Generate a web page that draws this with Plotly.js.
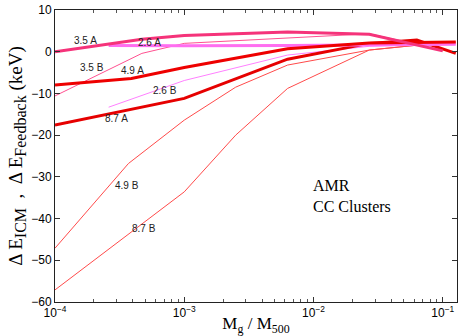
<!DOCTYPE html>
<html>
<head>
<meta charset="utf-8">
<script src="https://cdn.plot.ly/plotly-3.0.1.min.js"></script>
<style>
  html, body { margin: 0; padding: 0; background: #fff; }
  #plot { width: 463px; height: 336px; }
</style>
</head>
<body>
<div id="plot"></div>
<script>
// Mg/M500 positions and energy change (keV) for each run
const x35A = [1e-4, 4.7e-4, 1e-3, 6.3e-3, 0.027, 0.1];
const y35A = [0.0, 3.0, 3.9, 4.7, 4.2, 0.2];

const x35B = [1e-4, 4.7e-4, 1e-3, 6.3e-3, 0.027, 0.1];
const y35B = [-10.6, -0.4, 2.0, 3.3, 4.3, 0.4];

const x26A = [2.6e-4, 1e-3, 6.3e-3, 0.027, 0.1, 0.126];
const y26A = [1.5, 1.4, 1.5, 1.7, 1.8, 1.8];

const x26B = [2.6e-4, 1e-3, 6.3e-3, 0.027, 0.1, 0.126];
const y26B = [-13.3, -6.9, -0.8, 1.3, 1.8, 1.8];

const x49A = [1e-4, 3.9e-4, 1e-3, 6.3e-3, 0.027, 0.1, 0.126];
const y49A = [-8.0, -6.4, -3.8, 0.7, 2.1, 2.3, 2.3];

const x87A = [1e-4, 1e-3, 6.3e-3, 0.027, 0.063, 0.126];
const y87A = [-17.6, -11.2, -1.8, 2.0, 2.8, -0.4];

const x49B = [1e-4, 3.7e-4, 1e-3, 2.5e-3, 6.3e-3, 0.027, 0.1, 0.126];
const y49B = [-47.1, -26.8, -16.4, -8.5, -3.2, 0.4, 2.2, 2.3];

const x87B = [1e-4, 1e-3, 2.5e-3, 6.3e-3, 0.027, 0.1];
const y87B = [-57.1, -33.6, -20.0, -8.8, 0.4, 2.2];

// curve labels and where they sit
const labelText = ['3.5 A', '2.6 A', '3.5 B', '4.9 A', '2.6 B', '8.7 A', '4.9 B', '8.7 B'];
const labelX = [1.73e-4, 5.4e-4, 1.93e-4, 4.0e-4, 7.1e-4, 3.0e-4, 3.6e-4, 4.86e-4];
const labelY = [2.6, 2.1, -3.7, -4.4, -9.4, -16.1, -32.1, -42.3];

// minor ticks on the log axis
const minorTicks = [];
for (let d = -4; d <= -1; d++) {
    for (let m = 2; m <= 9; m++) minorTicks.push(m * Math.pow(10, d));
}

function line(x, y, color, width) {
    return { x, y, type: 'scatter', mode: 'lines', line: { color, width }, hoverinfo: 'skip' };
}

const traces = [
    line(x87B, y87B, '#ff4a4a', 1),
    line(x49B, y49B, '#ff4a4a', 1),
    line(x26B, y26B, '#ff80ff', 1),
    line(x35B, y35B, '#ff5090', 1),
    line(x87A, y87A, '#e60000', 3),
    line(x26A, y26A, '#ff6ef0', 3),
    line(x49A, y49A, '#ee0000', 3),
    line(x35A, y35A, '#f5337a', 3)
];

const annotations = labelText.map((t, i) => ({
    x: Math.log10(labelX[i]), y: labelY[i], text: t, showarrow: false,
    font: { family: 'Liberation Sans, Arial, sans-serif', size: 10, color: '#222' }
}));

annotations.push({
    x: Math.log10(0.0096), y: -34.5, xanchor: 'left', yanchor: 'middle', align: 'left',
    text: 'AMR<br>CC Clusters', showarrow: false,
    font: { family: 'Liberation Serif, Times New Roman, serif', size: 16, color: '#000' }
});

const subStyle = 'font-size:16px';

Plotly.newPlot('plot', traces, {
    width: 463,
    height: 336,
    margin: { l: 55, r: 6, t: 10, b: 34 },
    showlegend: false,
    plot_bgcolor: '#fff',
    paper_bgcolor: '#fff',
    font: { family: 'Liberation Sans, Arial, sans-serif', size: 12, color: '#000' },
    xaxis: {
        type: 'log',
        range: [-4, -0.89],
        tickvals: [1e-4, 1e-3, 1e-2, 1e-1],
        ticktext: ['10<sup>−4</sup>', '10<sup>−3</sup>', '10<sup>−2</sup>', '10<sup>−1</sup>'],
        ticks: 'inside',
        ticklen: 5,
        tickcolor: '#333',
        minor: { tickvals: minorTicks, ticks: 'inside', ticklen: 3, tickcolor: '#555' },
        showgrid: false,
        zeroline: false,
        showline: true,
        linecolor: '#222',
        mirror: 'ticks',
        title: {
            text: 'M<sub>g</sub> / M<sub>500</sub>',
            font: { family: 'Liberation Serif, Times New Roman, serif', size: 17 },
            standoff: 4
        }
    },
    yaxis: {
        range: [-60, 10],
        dtick: 10,
        ticks: 'inside',
        ticklen: 5,
        tickcolor: '#333',
        showgrid: false,
        zeroline: false,
        showline: true,
        linecolor: '#222',
        mirror: 'ticks',
        title: {
            text: 'Δ E<sub><span style="' + subStyle + '">ICM</span></sub>&nbsp; ,&nbsp; Δ E<sub><span style="' +
                subStyle + '">Feedback</span></sub> (keV)',
            font: { family: 'Liberation Serif, Times New Roman, serif', size: 19 },
            standoff: 3
        }
    },
    annotations
}, { displayModeBar: false, staticPlot: true });
</script>
</body>
</html>
